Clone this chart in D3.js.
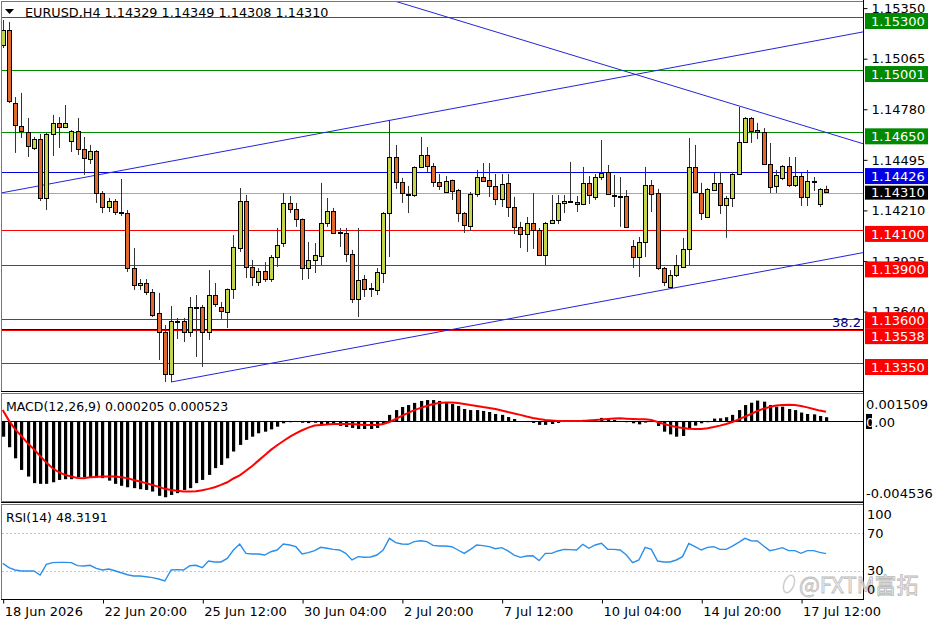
<!DOCTYPE html>
<html>
<head>
<meta charset="utf-8">
<script src="https://cdn.jsdelivr.net/npm/d3@7"></script>
<style>
body { margin: 0; background: #fff; }
</style>
</head>
<body>
<div id="chart"></div>
<script>
// EURUSD H4 bars, oldest first
var opens = [
1.15142, 1.15227, 1.14815, 1.14686, 1.14652, 1.14562, 1.14612, 1.14280, 1.14641, 1.14703,
1.14680, 1.14601, 1.14658, 1.14556, 1.14500, 1.14545, 1.14308, 1.14229, 1.14263, 1.14201,
1.14195, 1.13885, 1.13790, 1.13801, 1.13750, 1.13632, 1.13525, 1.13288, 1.13587, 1.13587,
1.13525, 1.13666, 1.13666, 1.13525, 1.13733, 1.13666, 1.13638, 1.13767, 1.13998, 1.14263,
1.13891, 1.13807, 1.13869, 1.13823, 1.13947, 1.14026, 1.14252, 1.14218, 1.14162, 1.13885,
1.13931, 1.13953, 1.14139, 1.14207, 1.14088, 1.14083, 1.13964, 1.13711, 1.13823, 1.13767,
1.13761, 1.13857, 1.14195, 1.14511, 1.14370, 1.14302, 1.14297, 1.14455, 1.14522, 1.14460,
1.14370, 1.14314, 1.14381, 1.14325, 1.14195, 1.14122, 1.14302, 1.14398, 1.14381, 1.14348,
1.14274, 1.14365, 1.14229, 1.14117, 1.14077, 1.14139, 1.14100, 1.13959, 1.14139, 1.14156,
1.14252, 1.14263, 1.14257, 1.14246, 1.14365, 1.14286, 1.14398, 1.14427, 1.14297, 1.14291,
1.14291, 1.14009, 1.13947, 1.14032, 1.14353, 1.14308, 1.13885, 1.13778, 1.13846, 1.13891,
1.13993, 1.14455, 1.14308, 1.14173, 1.14325, 1.14365, 1.14240, 1.14280, 1.14415, 1.14596,
1.14731, 1.14663, 1.14652, 1.14472, 1.14348, 1.14393, 1.14460, 1.14353, 1.14404, 1.14286,
1.14376, 1.14246, 1.14329
];
var highs = [
1.15283, 1.15272, 1.14849, 1.14872, 1.14731, 1.14624, 1.14641, 1.14646, 1.14748, 1.14736,
1.14804, 1.14663, 1.14731, 1.14624, 1.14579, 1.14550, 1.14319, 1.14280, 1.14274, 1.14387,
1.14212, 1.13998, 1.13823, 1.13823, 1.13767, 1.13745, 1.13564, 1.13671, 1.13604, 1.13604,
1.13722, 1.13733, 1.13677, 1.13874, 1.13801, 1.13694, 1.13770, 1.14071, 1.14336, 1.14297,
1.13931, 1.13885, 1.13919, 1.13959, 1.14111, 1.14308, 1.14291, 1.14252, 1.14165, 1.14032,
1.14026, 1.14365, 1.14280, 1.14224, 1.14111, 1.14111, 1.13987, 1.14111, 1.13846, 1.13801,
1.13885, 1.14201, 1.14720, 1.14579, 1.14393, 1.14348, 1.14458, 1.14624, 1.14567, 1.14477,
1.14415, 1.14404, 1.14384, 1.14331, 1.14201, 1.14314, 1.14438, 1.14477, 1.14477, 1.14415,
1.14415, 1.14415, 1.14286, 1.14145, 1.14173, 1.14308, 1.14111, 1.14145, 1.14297, 1.14297,
1.14297, 1.14483, 1.14291, 1.14455, 1.14404, 1.14415, 1.14607, 1.14466, 1.14410, 1.14398,
1.14325, 1.14043, 1.14060, 1.14455, 1.14381, 1.14331, 1.13891, 1.13874, 1.13959, 1.14055,
1.14618, 1.14579, 1.14365, 1.14336, 1.14421, 1.14427, 1.14291, 1.14427, 1.14793, 1.14736,
1.14736, 1.14703, 1.14674, 1.14590, 1.14438, 1.14466, 1.14511, 1.14511, 1.14421, 1.14438,
1.14398, 1.14336, 1.14349
];
var lows = [
1.15125, 1.14815, 1.14534, 1.14618, 1.14511, 1.14550, 1.14263, 1.14212, 1.14517, 1.14562,
1.14674, 1.14539, 1.14522, 1.14410, 1.14472, 1.14252, 1.14195, 1.14201, 1.14184, 1.14178,
1.13863, 1.13761, 1.13761, 1.13733, 1.13609, 1.13367, 1.13243, 1.13243, 1.13485, 1.13468,
1.13497, 1.13384, 1.13328, 1.13480, 1.13666, 1.13598, 1.13547, 1.13711, 1.13976, 1.13829,
1.13784, 1.13784, 1.13807, 1.13807, 1.13891, 1.14004, 1.14195, 1.14117, 1.13818, 1.13823,
1.13857, 1.13902, 1.14117, 1.14077, 1.14004, 1.13919, 1.13688, 1.13609, 1.13722, 1.13722,
1.13733, 1.13801, 1.13947, 1.14331, 1.14252, 1.14195, 1.14286, 1.14449, 1.14427, 1.14342,
1.14325, 1.14308, 1.14269, 1.14145, 1.14083, 1.14094, 1.14286, 1.14370, 1.14286, 1.14240,
1.14229, 1.14173, 1.14077, 1.13998, 1.13976, 1.13993, 1.13953, 1.13902, 1.14133, 1.14133,
1.14195, 1.14252, 1.14201, 1.14240, 1.14246, 1.14269, 1.14381, 1.14297, 1.14229, 1.14117,
1.14111, 1.13885, 1.13835, 1.13947, 1.14201, 1.13874, 1.13784, 1.13773, 1.13835, 1.13885,
1.13902, 1.14308, 1.14156, 1.14167, 1.14319, 1.14190, 1.14055, 1.14229, 1.14410, 1.14590,
1.14590, 1.14612, 1.14466, 1.14308, 1.14308, 1.14381, 1.14342, 1.14342, 1.14235, 1.14235,
1.14319, 1.14229, 1.14308
];
var closes = [
1.15227, 1.14827, 1.14691, 1.14658, 1.14573, 1.14612, 1.14280, 1.14641, 1.14703, 1.14680,
1.14703, 1.14658, 1.14556, 1.14505, 1.14545, 1.14308, 1.14229, 1.14263, 1.14201, 1.14195,
1.13885, 1.13790, 1.13801, 1.13750, 1.13621, 1.13525, 1.13288, 1.13587, 1.13581, 1.13525,
1.13666, 1.13660, 1.13525, 1.13733, 1.13683, 1.13643, 1.13767, 1.14004, 1.14263, 1.13891,
1.13835, 1.13869, 1.13823, 1.13947, 1.14015, 1.14252, 1.14218, 1.14162, 1.13885, 1.13931,
1.13959, 1.14139, 1.14207, 1.14083, 1.14083, 1.13964, 1.13711, 1.13818, 1.13767, 1.13773,
1.13863, 1.14195, 1.14511, 1.14370, 1.14308, 1.14300, 1.14455, 1.14522, 1.14460, 1.14370,
1.14348, 1.14376, 1.14319, 1.14195, 1.14128, 1.14302, 1.14398, 1.14376, 1.14348, 1.14274,
1.14359, 1.14229, 1.14117, 1.14077, 1.14139, 1.14100, 1.13959, 1.14139, 1.14156, 1.14252,
1.14263, 1.14265, 1.14246, 1.14365, 1.14297, 1.14398, 1.14421, 1.14302, 1.14295, 1.14289,
1.14117, 1.13947, 1.14032, 1.14353, 1.14302, 1.13885, 1.13807, 1.13846, 1.13902, 1.13993,
1.14455, 1.14314, 1.14195, 1.14331, 1.14365, 1.14240, 1.14280, 1.14415, 1.14596, 1.14731,
1.14658, 1.14652, 1.14472, 1.14342, 1.14410, 1.14460, 1.14353, 1.14404, 1.14286, 1.14376,
1.14370, 1.14331, 1.14310
];

// MACD(12,26,9): main as histogram, signal as line
var macdMain = [
-0.00088, -0.00147, -0.00209, -0.00274, -0.00311, -0.00348, -0.00352, -0.00352, -0.00343, -0.00330,
-0.00326, -0.00326, -0.00315, -0.00315, -0.00315, -0.00315, -0.00320, -0.00334, -0.00352, -0.00363,
-0.00371, -0.00376, -0.00382, -0.00386, -0.00395, -0.00419, -0.00427, -0.00414, -0.00404, -0.00386,
-0.00376, -0.00348, -0.00330, -0.00302, -0.00264, -0.00246, -0.00209, -0.00171, -0.00134, -0.00106,
-0.00088, -0.00069, -0.00060, -0.00047, -0.00032, -0.00013, -0.00007, -0.00005, -0.00010, -0.00012,
-0.00010, -0.00017, -0.00017, -0.00022, -0.00028, -0.00034, -0.00039, -0.00045, -0.00045, -0.00045,
-0.00039, -0.00017, 0.00034, 0.00061, 0.00078, 0.00089, 0.00101, 0.00112, 0.00117, 0.00117,
0.00112, 0.00106, 0.00095, 0.00084, 0.00067, 0.00061, 0.00061, 0.00056, 0.00050, 0.00039,
0.00034, 0.00022, 0.00011, 0.00000, -0.00006, -0.00011, -0.00022, -0.00022, -0.00017, -0.00011,
-0.00006, -0.00006, -0.00006, 0.00006, 0.00006, 0.00011, 0.00017, 0.00011, 0.00006, 0.00000,
-0.00007, -0.00013, -0.00019, -0.00009, -0.00002, -0.00028, -0.00060, -0.00075, -0.00088, -0.00084,
-0.00041, -0.00026, -0.00013, -0.00007, 0.00013, 0.00015, 0.00021, 0.00034, 0.00061, 0.00089,
0.00102, 0.00114, 0.00108, 0.00089, 0.00080, 0.00080, 0.00067, 0.00061, 0.00047, 0.00039,
0.00037, 0.00028, 0.00021
];
var macdSignal = [
0.00062, 0.00002, -0.00047, -0.00084, -0.00125, -0.00158, -0.00196, -0.00233, -0.00265, -0.00287,
-0.00302, -0.00311, -0.00319, -0.00320, -0.00315, -0.00313, -0.00311, -0.00311, -0.00311, -0.00315,
-0.00320, -0.00330, -0.00339, -0.00348, -0.00358, -0.00369, -0.00380, -0.00386, -0.00391, -0.00395,
-0.00395, -0.00393, -0.00388, -0.00380, -0.00371, -0.00358, -0.00343, -0.00322, -0.00304, -0.00279,
-0.00252, -0.00222, -0.00192, -0.00162, -0.00136, -0.00112, -0.00089, -0.00069, -0.00052, -0.00037,
-0.00026, -0.00022, -0.00020, -0.00017, -0.00017, -0.00017, -0.00017, -0.00020, -0.00022, -0.00022,
-0.00022, -0.00017, -0.00006, 0.00011, 0.00028, 0.00045, 0.00061, 0.00073, 0.00084, 0.00095,
0.00101, 0.00103, 0.00103, 0.00101, 0.00095, 0.00089, 0.00084, 0.00078, 0.00073, 0.00067,
0.00059, 0.00050, 0.00042, 0.00034, 0.00025, 0.00017, 0.00011, 0.00006, 0.00003, 0.00000,
0.00000, 0.00000, 0.00000, 0.00000, 0.00003, 0.00006, 0.00008, 0.00011, 0.00014, 0.00015,
0.00013, 0.00011, 0.00009, 0.00009, 0.00006, -0.00006, -0.00017, -0.00026, -0.00034, -0.00039,
-0.00043, -0.00045, -0.00045, -0.00041, -0.00034, -0.00026, -0.00017, -0.00006, 0.00009, 0.00024,
0.00039, 0.00056, 0.00069, 0.00078, 0.00086, 0.00089, 0.00091, 0.00089, 0.00084, 0.00076,
0.00067, 0.00058, 0.00052
];

// RSI(14)
var rsiValues = [
38.1, 33.5, 31.1, 30.0, 30.0, 30.0, 25.8, 37.0, 38.8, 39.1,
39.1, 38.8, 35.6, 35.3, 36.0, 32.8, 31.1, 32.1, 30.3, 28.2,
26.1, 24.7, 24.7, 24.0, 23.0, 21.6, 19.5, 31.1, 31.4, 31.1,
35.6, 36.0, 33.5, 40.5, 39.5, 39.5, 43.3, 52.1, 58.4, 48.6,
47.9, 47.9, 46.8, 50.3, 52.1, 58.4, 57.4, 55.6, 47.9, 49.3,
51.4, 54.9, 53.9, 52.8, 52.1, 48.6, 41.6, 45.1, 44.4, 44.7,
46.8, 52.1, 64.4, 59.8, 58.4, 58.1, 60.9, 61.9, 60.9, 57.0,
56.3, 56.3, 55.6, 52.1, 48.6, 52.8, 57.4, 56.7, 55.6, 53.5,
54.6, 51.1, 46.8, 44.4, 45.8, 46.1, 40.9, 48.6, 48.6, 51.1,
52.8, 52.5, 52.1, 58.1, 53.9, 57.4, 59.1, 52.8, 52.8, 52.1,
46.8, 38.8, 41.6, 54.9, 52.8, 40.5, 39.5, 39.5, 41.6, 45.1,
59.1, 55.6, 52.1, 54.9, 55.6, 52.8, 52.8, 56.3, 60.2, 64.4,
61.9, 61.6, 56.3, 51.4, 52.8, 54.6, 51.4, 51.4, 48.6, 51.4,
51.4, 49.6, 48.3
];

var timeLabels = ["18 Jun 2026", "22 Jun 20:00", "25 Jun 12:00", "30 Jun 04:00", "2 Jul 20:00",
                  "7 Jul 12:00", "10 Jul 04:00", "14 Jul 20:00", "17 Jul 12:00"];
var timeLabelBars = [0, 16, 32, 48, 64, 80, 96, 112, 128];
var priceTicks = [1.15350, 1.15065, 1.14780, 1.14495, 1.14210, 1.13925, 1.13640];

var greenLevels = [1.15300, 1.15001, 1.14650];
var blueLevels = [1.14426];
var redLevels = [1.14100, 1.13900, 1.13600, 1.13538, 1.13350];
var fiboLevel = 1.13538;
var bidPrice = 1.14310;

// trend lines as [bar, price] anchor pairs
var upperChannel = [[0, 1.14310], [132, 1.15177]];
var fallingLine = [[110, 1.14885], [134, 1.14628]];
var lowerChannel = [[27, 1.13243], [132, 1.13933]];

var macdTicks = [0.001509, 0, -0.004536];
var rsiTicks = [100, 70, 30, 0];

var bullColor = "#c4d44c";
var bearColor = "#e2682e";
var fontFam = "'DejaVu Sans', Verdana, sans-serif";

var svg = d3.select("#chart").append("svg")
            .attr("width", 936)
            .attr("height", 624)
            .style("font-family", fontFam);

var xScale = d3.scaleLinear().domain([0, 132]).range([2.7, 826]);
var yPrice = d3.scaleLinear().domain([1.13350, 1.15300]).range([363, 17]);
var yMacd = d3.scaleLinear().domain([-0.004536, 0.001509]).range([502, 394]);
var yRsi = d3.scaleLinear().domain([0, 100]).range([599.5, 504.5]);

var bars = d3.range(closes.length);
var px = function(i) { return Math.round(xScale(i)) + 0.5; };

svg.append("defs").append("clipPath").attr("id", "mainClip")
   .append("rect").attr("x", 2).attr("y", 2).attr("width", 861).attr("height", 389);

// panel frames
svg.append("rect").attr("x", 1.5).attr("y", 1.5).attr("width", 862).attr("height", 390)
   .attr("fill", "none").attr("stroke", "#777");
svg.append("rect").attr("x", 1.5).attr("y", 393.5).attr("width", 862).attr("height", 108)
   .attr("fill", "none").attr("stroke", "#777");
svg.append("rect").attr("x", 1.5).attr("y", 504.5).attr("width", 862).attr("height", 95)
   .attr("fill", "none").attr("stroke", "#777");
svg.append("line").attr("x1", 1).attr("x2", 864).attr("y1", 391.5).attr("y2", 391.5).attr("stroke", "#000");
svg.append("line").attr("x1", 1).attr("x2", 864).attr("y1", 502.5).attr("y2", 502.5).attr("stroke", "#000");

var mainG = svg.append("g").attr("clip-path", "url(#mainClip)");

// horizontal levels
function levelLine(p, color) {
    mainG.append("line")
         .attr("x1", 2).attr("x2", 863)
         .attr("y1", Math.round(yPrice(p)) + 0.5).attr("y2", Math.round(yPrice(p)) + 0.5)
         .attr("stroke", color).attr("stroke-width", 1.2);
}
greenLevels.forEach(function(p) { levelLine(p, "#008a00"); });
redLevels.forEach(function(p) { levelLine(p, "#ff0000"); });
blueLevels.forEach(function(p) { levelLine(p, "#0000e6"); });
levelLine(bidPrice, "#a3a3cf");
mainG.append("line")
     .attr("x1", 2).attr("x2", 863)
     .attr("y1", Math.round(yPrice(fiboLevel)) - 0.5).attr("y2", Math.round(yPrice(fiboLevel)) - 0.5)
     .attr("stroke", "#000080");
mainG.append("text")
     .attr("x", 861).attr("y", yPrice(fiboLevel) - 3)
     .attr("text-anchor", "end")
     .style("font-size", "13px").attr("fill", "#000080")
     .text("38.2");

// trend lines
function trend(pts, extendLeft) {
    var x1 = xScale(pts[0][0]), y1 = yPrice(pts[0][1]);
    var x2 = xScale(pts[1][0]), y2 = yPrice(pts[1][1]);
    var k = (y2 - y1) / (x2 - x1);
    var xa = extendLeft ? 0 : x1, xb = 870;
    mainG.append("line")
         .attr("x1", xa).attr("y1", y1 + k * (xa - x1))
         .attr("x2", xb).attr("y2", y1 + k * (xb - x1))
         .attr("stroke", "#2424d8").attr("stroke-width", 1);
}
trend(upperChannel, true);
trend(fallingLine, true);
trend(lowerChannel, false);

// candles
mainG.selectAll(".wick").data(bars).enter().append("line")
     .attr("x1", px).attr("x2", px)
     .attr("y1", function(i) { return yPrice(highs[i]); })
     .attr("y2", function(i) { return yPrice(lows[i]); })
     .attr("stroke", "#333");
mainG.selectAll(".body").data(bars).enter().append("rect")
     .attr("x", function(i) { return px(i) - 2; })
     .attr("y", function(i) { return Math.round(yPrice(Math.max(opens[i], closes[i]))) + 0.5; })
     .attr("width", 4)
     .attr("height", function(i) {
         return Math.max(1, Math.round(Math.abs(yPrice(opens[i]) - yPrice(closes[i]))));
     })
     .attr("fill", function(i) { return closes[i] >= opens[i] ? bullColor : bearColor; })
     .attr("stroke", "#000");

// header
svg.append("path").attr("d", "M5,9 L14,9 L9.5,14 Z").attr("fill", "#000");
svg.append("text").attr("x", 25).attr("y", 17)
   .style("font-size", "12.8px").attr("fill", "#000")
   .text("EURUSD,H4  1.14329 1.14349 1.14308 1.14310");

// price axis
svg.append("line").attr("x1", 863.5).attr("x2", 863.5).attr("y1", 0).attr("y2", 600).attr("stroke", "#000");
var priceAxis = d3.axisRight(yPrice).tickValues(priceTicks).tickSize(4).tickPadding(4)
                  .tickFormat(function(d) { return d.toFixed(5); });
var pa = svg.append("g").attr("transform", "translate(863.5,0)").call(priceAxis);
pa.select(".domain").remove();
pa.selectAll("text").style("font-size", "13px").style("font-family", fontFam).attr("fill", "#000");

// level labels on the axis
var tags = [];
greenLevels.forEach(function(p) { tags.push({p: p, fill: "#008a00"}); });
blueLevels.forEach(function(p) { tags.push({p: p, fill: "#0000e6"}); });
redLevels.forEach(function(p) { tags.push({p: p, fill: "#ff0000"}); });
tags.sort(function(a, b) { return b.p - a.p; });
tags.forEach(function(t) { t.top = yPrice(t.p) - 4; });
for (var k = 1; k < tags.length; k++) {
    var over = tags[k - 1].top + 16 - tags[k].top;
    if (over > 0) { tags[k - 1].top -= over / 2; tags[k].top += over / 2; }
}
tags.forEach(function(t) {
    svg.append("rect").attr("x", 865).attr("y", t.top).attr("width", 63).attr("height", 16).attr("fill", t.fill);
    svg.append("text").attr("x", 871).attr("y", t.top + 8).attr("dy", "0.36em")
       .style("font-size", "13px").attr("fill", "#fff").text(t.p.toFixed(5));
});
svg.append("rect").attr("x", 865).attr("y", yPrice(bidPrice) - 7).attr("width", 63).attr("height", 14).attr("fill", "#000");
svg.append("text").attr("x", 871).attr("y", yPrice(bidPrice)).attr("dy", "0.36em")
   .style("font-size", "13px").attr("fill", "#fff").text(bidPrice.toFixed(5));

// MACD panel
var macdG = svg.append("g");
macdG.append("line").attr("x1", 2).attr("x2", 863).attr("y1", Math.round(yMacd(0)) + 0.5).attr("y2", Math.round(yMacd(0)) + 0.5)
     .attr("stroke", "#000");
macdG.selectAll(".hist").data(bars).enter().append("rect")
     .attr("x", function(i) { return px(i) - 1.5; })
     .attr("width", 3.2)
     .attr("y", function(i) { return Math.min(yMacd(0), yMacd(macdMain[i])); })
     .attr("height", function(i) { return Math.abs(yMacd(macdMain[i]) - yMacd(0)); })
     .attr("fill", "#000");
macdG.append("path")
     .datum(bars)
     .attr("fill", "none").attr("stroke", "#ff0000").attr("stroke-width", 2)
     .attr("d", d3.line().x(function(i) { return xScale(i); }).y(function(i) { return yMacd(macdSignal[i]); }));
svg.append("text").attr("x", 6).attr("y", 406).attr("dy", "0.36em")
   .style("font-size", "12.5px").text("MACD(12,26,9) 0.000205 0.000523");

// black marker behind the first digit of the zero label
svg.append("rect").attr("x", 866).attr("y", yMacd(0) - 7)
   .attr("width", 6).attr("height", 15).attr("fill", "#000");
var macdOffsets = [10, 1, -9];
macdTicks.forEach(function(v, i) {
    var t = svg.append("text").attr("x", 866).attr("y", yMacd(v) + macdOffsets[i]).attr("dy", "0.36em")
               .style("font-size", "13px").attr("fill", "#000");
    if (v === 0) {
        t.append("tspan").attr("fill", "#fff").text("0");
        t.append("tspan").text(".00");
    } else {
        t.text(v.toFixed(6));
    }
});

// RSI panel
var rsiG = svg.append("g");
[70, 30].forEach(function(v) {
    rsiG.append("line").attr("x1", 2).attr("x2", 863)
        .attr("y1", Math.round(yRsi(v)) + 0.5).attr("y2", Math.round(yRsi(v)) + 0.5)
        .attr("stroke", "#c4c4c4").attr("stroke-dasharray", "2,2");
});
rsiG.append("path")
    .datum(bars)
    .attr("fill", "none").attr("stroke", "#2b8fea").attr("stroke-width", 1.4)
    .attr("d", d3.line().x(function(i) { return xScale(i); }).y(function(i) { return yRsi(rsiValues[i]); }));
svg.append("text").attr("x", 6).attr("y", 517).attr("dy", "0.36em")
   .style("font-size", "12.5px").text("RSI(14) 48.3191");

// watermark
var wm = svg.append("g").attr("opacity", 0.9);
wm.append("ellipse").attr("cx", 789).attr("cy", 584).attr("rx", 5).attr("ry", 9)
  .attr("fill", "none").attr("stroke", "#c8c8c8").attr("stroke-width", 1.5)
  .attr("transform", "rotate(20,789,584)");
wm.append("text").attr("x", 799).attr("y", 593)
  .style("font-size", "22px").style("font-family", "'Noto Sans CJK SC', 'DejaVu Sans', sans-serif")
  .attr("fill", "#f2f2f2").attr("stroke", "#b4b4b4").attr("stroke-width", 0.8)
  .text("@FXTM富拓");

var rsiOffsets = [9.5, 0, -1, -10.5];
rsiTicks.forEach(function(v, i) {
    svg.append("text").attr("x", 867).attr("y", yRsi(v) + rsiOffsets[i]).attr("dy", "0.36em")
       .style("font-size", "13px").attr("fill", "#000").text(v);
});

// time axis
svg.append("line").attr("x1", 1).attr("x2", 864).attr("y1", 599.5).attr("y2", 599.5).attr("stroke", "#000");
var timeAxis = d3.axisBottom(xScale).tickValues(timeLabelBars).tickSize(4).tickPadding(3)
                 .tickFormat(function(d, i) { return timeLabels[i]; });
var ta = svg.append("g").attr("transform", "translate(0.5,599.5)").call(timeAxis);
ta.select(".domain").remove();
ta.selectAll("text").attr("text-anchor", "start").attr("x", 1)
  .style("font-size", "13px").style("font-family", fontFam).attr("fill", "#000");
</script>
</body>
</html>
